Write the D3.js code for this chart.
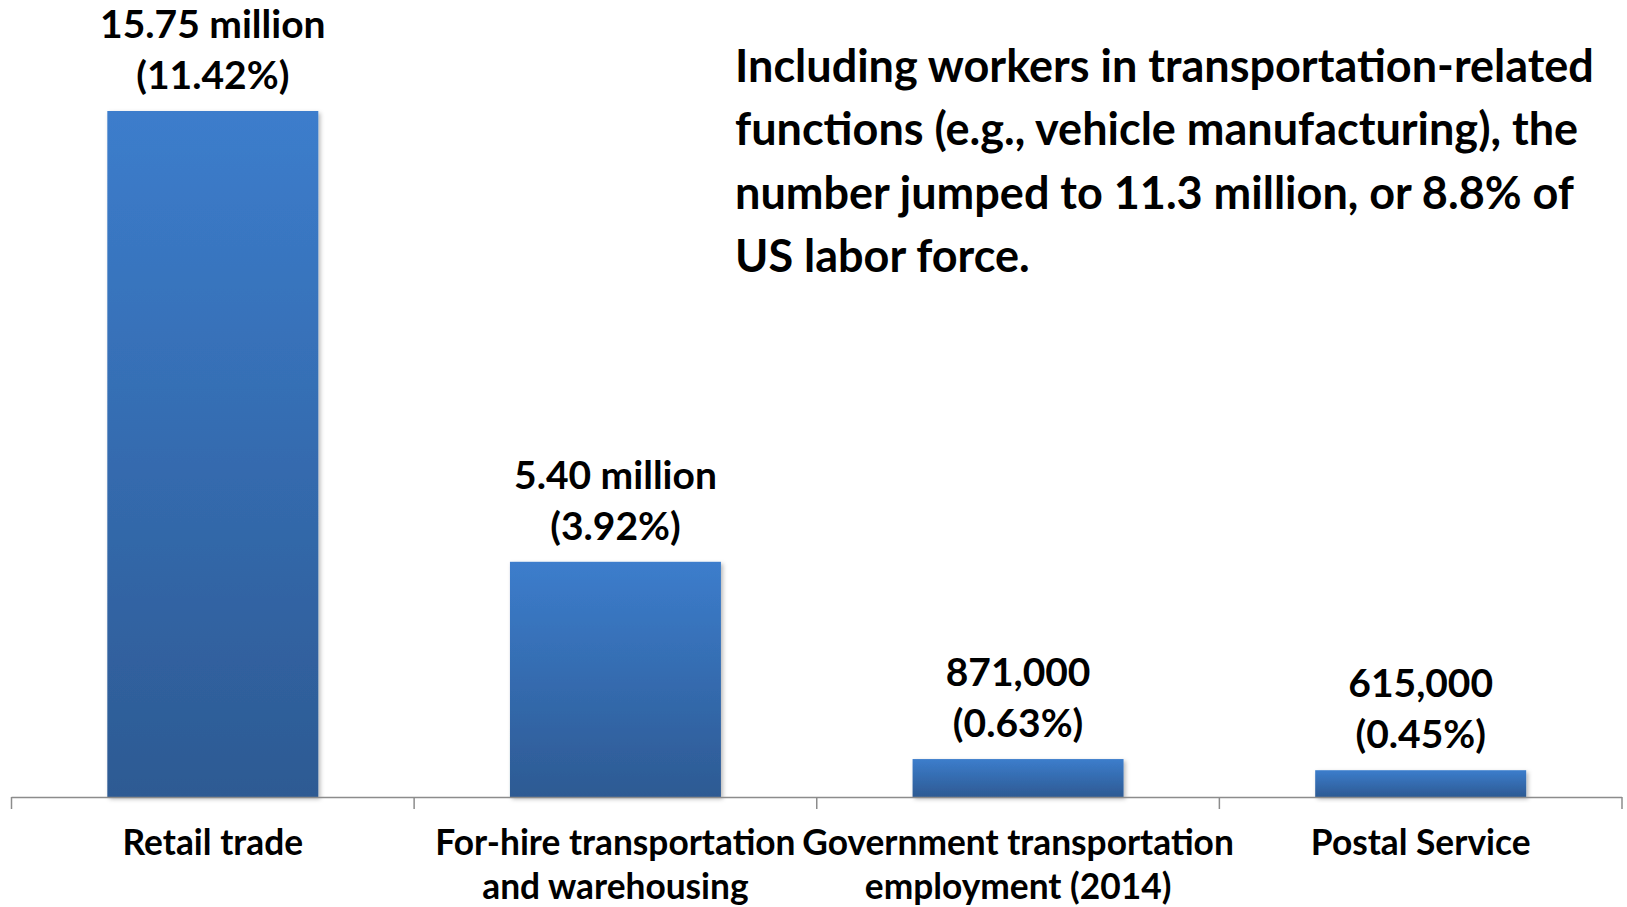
<!DOCTYPE html>
<html>
<head>
<meta charset="utf-8">
<script src="https://cdn.jsdelivr.net/npm/d3@7"></script>
<style>
  html, body { margin: 0; padding: 0; background: #ffffff; }
  svg { display: block; }
  text { font-family: Lato, "Open Sans", "Liberation Sans", sans-serif; font-weight: 700; fill: #000; }
</style>
</head>
<body>
<svg id="chart" width="1627" height="907"></svg>
<script>
// Transportation-related employment, by sector (millions of workers)
const categories = ["Retail trade", "For-hire transportation and warehousing", "Government transportation employment (2014)", "Postal Service"];
const categoryLines = [["Retail trade"], ["For-hire transportation", "and warehousing"], ["Government transportation", "employment (2014)"], ["Postal Service"]];
const workers = [15.75, 5.40, 0.871, 0.615];
const valueLabels = ["15.75 million", "5.40 million", "871,000", "615,000"];
const shareLabels = ["(11.42%)", "(3.92%)", "(0.63%)", "(0.45%)"];
const noteLines = [
  "Including workers in transportation-related",
  "functions (e.g., vehicle manufacturing), the",
  "number jumped to 11.3 million, or 8.8% of",
  "US labor force."
];
const yMax = 18;

const svg = d3.select("#chart");
const plot = { left: 11.5, right: 1622, top: 13, bottom: 797 };

const x = d3.scaleBand()
  .domain(categories)
  .range([plot.left, plot.right])
  .paddingInner(0.476)
  .paddingOuter(0.238);

const y = d3.scaleLinear()
  .domain([0, yMax])
  .range([plot.bottom, plot.top]);

// Bar fill: light blue at the top fading to a deeper blue at the base
const defs = svg.append("defs");
const grad = defs.append("linearGradient")
  .attr("id", "barFill")
  .attr("x1", 0).attr("y1", 0).attr("x2", 0).attr("y2", 1);
grad.append("stop").attr("offset", "0%").attr("stop-color", "#3c7dcc");
grad.append("stop").attr("offset", "100%").attr("stop-color", "#2d5a93");

const shadow = defs.append("filter")
  .attr("id", "barShadow")
  .attr("x", "-10%").attr("y", "-10%").attr("width", "130%").attr("height", "130%");
shadow.append("feDropShadow")
  .attr("dx", 2).attr("dy", 2).attr("stdDeviation", 2.2)
  .attr("flood-color", "#000").attr("flood-opacity", 0.28);

// Bars
svg.append("g")
  .selectAll("rect")
  .data(workers)
  .join("rect")
  .attr("x", (d, i) => x(categories[i]))
  .attr("y", d => y(d))
  .attr("width", x.bandwidth())
  .attr("height", d => y(0) - y(d))
  .attr("fill", "url(#barFill)")
  .attr("filter", "url(#barShadow)");

// Category axis: baseline with ticks between categories
const axis = svg.append("g").attr("class", "axis");
axis.append("line")
  .attr("x1", plot.left).attr("x2", plot.right)
  .attr("y1", y(0) + 0.5).attr("y2", y(0) + 0.5)
  .attr("stroke", "#8c8c8c").attr("stroke-width", 1.5);
axis.selectAll("line.tick")
  .data(d3.range(categories.length + 1))
  .join("line")
  .attr("class", "tick")
  .attr("x1", i => plot.left + i * x.step())
  .attr("x2", i => plot.left + i * x.step())
  .attr("y1", y(0)).attr("y2", y(0) + 12)
  .attr("stroke", "#8c8c8c").attr("stroke-width", 1.5);

// Category labels
const catFont = 35.3, catLead = 44;
axis.selectAll("text.cat")
  .data(categories)
  .join("text")
  .attr("class", "cat")
  .attr("text-anchor", "middle")
  .attr("font-size", catFont)
  .attr("transform", d => `translate(${x(d) + x.bandwidth() / 2},${y(0) + 58})`)
  .each(function (d, i) {
    d3.select(this).selectAll("tspan")
      .data(categoryLines[i])
      .join("tspan")
      .attr("x", 0)
      .attr("y", (t, k) => k * catLead)
      .text(t => t);
  });

// Value labels above each bar
const valFont = 39, valLead = 51, valGap = 22;
const labels = svg.append("g")
  .selectAll("text")
  .data(workers)
  .join("text")
  .attr("text-anchor", "middle")
  .attr("font-size", valFont)
  .attr("transform", (d, i) => `translate(${x(categories[i]) + x.bandwidth() / 2},${y(d) - valGap})`);
labels.append("tspan").attr("x", 0).attr("y", -valLead).text((d, i) => valueLabels[i]);
labels.append("tspan").attr("x", 0).attr("y", 0).text((d, i) => shareLabels[i]);

// Annotation
svg.append("text")
  .attr("font-size", 45)
  .attr("transform", "translate(735,82)")
  .selectAll("tspan")
  .data(noteLines)
  .join("tspan")
  .attr("x", 0)
  .attr("y", (d, i) => i * 63.3)
  .text(d => d);
</script>
</body>
</html>
